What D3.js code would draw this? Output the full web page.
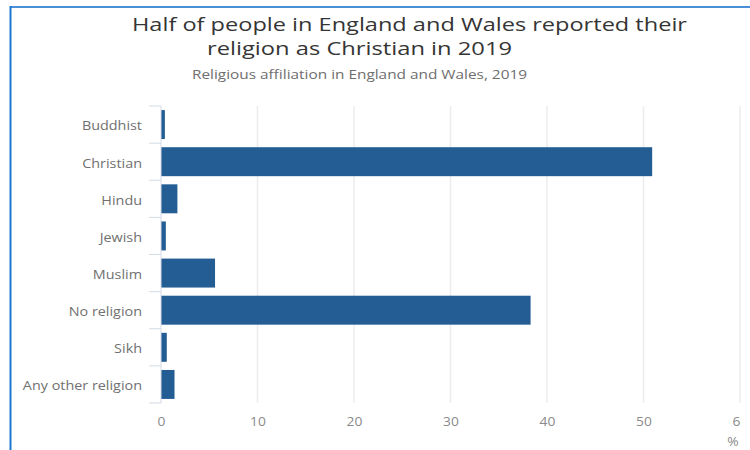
<!DOCTYPE html>
<html>
<head>
<meta charset="utf-8">
<script src="https://cdn.jsdelivr.net/npm/d3@7"></script>
<style>
  html, body { margin: 0; padding: 0; background: #fff; }
  svg { display: block; font-family: "Open Sans", "Noto Sans", sans-serif; }
</style>
</head>
<body>
<svg id="chart" width="750" height="450"></svg>
<script>
// Religious affiliation in England and Wales, 2019 (% of population)
const categories = ["Buddhist", "Christian", "Hindu", "Jewish", "Muslim", "No religion", "Sikh", "Any other religion"];
const percentages = [0.4, 50.9, 1.7, 0.5, 5.6, 38.3, 0.6, 1.4];
const xTicks = [0, 10, 20, 30, 40, 50, 60];
const titleLines = ["Half of people in England and Wales reported their", "religion as Christian in 2019"];
const subtitle = "Religious affiliation in England and Wales, 2019";

const rows = categories.map((c, i) => ({ category: c, value: percentages[i] }));

// text in this chart is set slightly wide
const WIDE = 1.15;

const svg = d3.select("#chart");

// frame lines along the top and left edges
svg.append("line").attr("x1", 10).attr("x2", 750).attr("y1", 7).attr("y2", 7)
  .attr("stroke", "#4a90d6").attr("stroke-width", 2);
svg.append("line").attr("x1", 10.5).attr("x2", 10.5).attr("y1", 6).attr("y2", 450)
  .attr("stroke", "#1a78d2").attr("stroke-width", 2);

// titles
svg.append("text").attr("x", 132).attr("y", 31)
  .attr("font-size", 19).attr("fill", "#353535")
  .attr("textLength", 555).attr("lengthAdjust", "spacingAndGlyphs")
  .text(titleLines[0]);
svg.append("text").attr("x", 207).attr("y", 55)
  .attr("font-size", 19).attr("fill", "#353535")
  .attr("textLength", 305).attr("lengthAdjust", "spacingAndGlyphs")
  .text(titleLines[1]);
svg.append("text").attr("x", 192).attr("y", 79)
  .attr("font-size", 12.5).attr("fill", "#6e6e6e")
  .attr("textLength", 335).attr("lengthAdjust", "spacingAndGlyphs")
  .text(subtitle);

// chart area, clipped at the right edge
svg.append("defs").append("clipPath").attr("id", "plot-clip")
  .append("rect").attr("x", 0).attr("y", 0).attr("width", 741).attr("height", 450);
const g = svg.append("g").attr("clip-path", "url(#plot-clip)");

const x = d3.scaleLinear().domain([0, 60]).range([161, 740]);
const y = d3.scaleBand().domain(categories).range([106, 403])
  .paddingInner(0.22).paddingOuter(0.11);

// vertical gridlines
g.append("g").selectAll("line").data(xTicks.filter(t => t > 0)).join("line")
  .attr("x1", d => x(d)).attr("x2", d => x(d))
  .attr("y1", 106).attr("y2", 403)
  .attr("stroke", "#ececec").attr("stroke-width", 1.5);

// bars
g.append("g").selectAll("rect").data(rows).join("rect")
  .attr("x", x(0))
  .attr("y", d => y(d.category))
  .attr("width", d => x(d.value) - x(0))
  .attr("height", y.bandwidth())
  .attr("fill", "#235d93");

// category axis: ticks sit on band boundaries
const halfGap = y.step() * y.paddingInner() / 2;
const boundaries = categories.map(c => y(c) - halfGap).concat([y(categories[categories.length - 1]) + y.bandwidth() + halfGap]);
const yAxis = g.append("g");
yAxis.append("line").attr("x1", x(0)).attr("x2", x(0))
  .attr("y1", boundaries[0]).attr("y2", boundaries[boundaries.length - 1])
  .attr("stroke", "#d3dbe6").attr("stroke-width", 1);
yAxis.selectAll("line.tick").data(boundaries).join("line").attr("class", "tick")
  .attr("x1", x(0) - 12).attr("x2", x(0))
  .attr("y1", d => d).attr("y2", d => d)
  .attr("stroke", "#d3dbe6").attr("stroke-width", 1);
yAxis.selectAll("text").data(categories).join("text")
  .attr("transform", d => `translate(142,${y(d) + y.bandwidth() / 2 + 1.5}) scale(${WIDE},1)`)
  .attr("dy", "0.35em").attr("text-anchor", "end")
  .attr("font-size", 12.5).attr("fill", "#707070").text(d => d);

// value axis labels (each tick group is already centred on its value)
const xAxis = d3.axisBottom(x).tickValues(xTicks).tickSize(0).tickPadding(0);
const xg = g.append("g").attr("transform", "translate(0,417)").call(xAxis);
xg.select(".domain").remove();
xg.selectAll("text").attr("font-size", 12).attr("fill", "#8a8a8a")
  .attr("font-family", "\"Open Sans\", sans-serif")
  .attr("transform", `scale(${WIDE},1)`);

svg.append("text").attr("transform", `translate(733,446) scale(${WIDE},1)`).attr("text-anchor", "middle")
  .attr("font-size", 12).attr("fill", "#8a8a8a").text("%");
</script>
</body>
</html>
